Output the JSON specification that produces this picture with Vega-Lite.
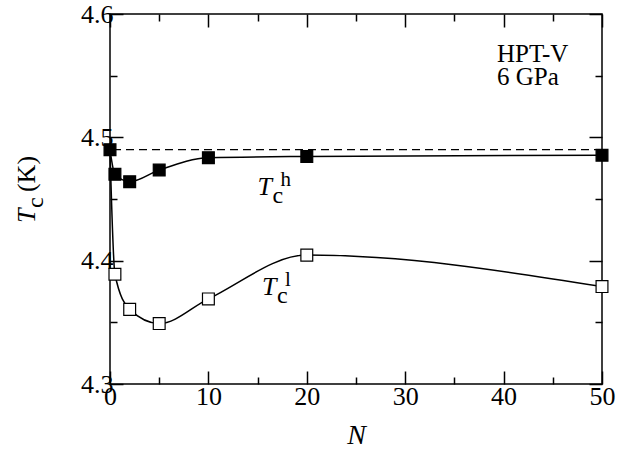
{
  "$schema": "https://vega.github.io/schema/vega-lite/v6.json",
  "width": 492,
  "height": 370,
  "autosize": {"type": "none"},
  "padding": {"left": 110, "top": 14, "right": 37, "bottom": 77},
  "background": "white",
  "config": {
    "view": {"stroke": "black", "strokeWidth": 1.5},
    "font": "Liberation Serif",
    "axis": {
      "domain": false,
      "grid": false,
      "labelFont": "Liberation Serif",
      "labelFontSize": 26,
      "labelColor": "black",
      "tickColor": "black",
      "tickWidth": 1.5,
      "titleFont": "Liberation Serif",
      "titleColor": "black",
      "labelOverlap": false,
      "labelFlush": false,
      "labelBound": false
    }
  },
  "datasets": {
    "tc": [
      {"N": 0, "Tc": 4.49, "series": "h", "marker": true},
      {"N": 0.5, "Tc": 4.47, "series": "h", "marker": true},
      {"N": 2, "Tc": 4.464, "series": "h", "marker": true},
      {"N": 5, "Tc": 4.4735, "series": "h", "marker": true},
      {"N": 10, "Tc": 4.4835, "series": "h", "marker": true},
      {"N": 20, "Tc": 4.4845, "series": "h", "marker": true},
      {"N": 50, "Tc": 4.4855, "series": "h", "marker": true},
      {"N": 0, "Tc": 4.49, "series": "l", "marker": false},
      {"N": 0.5, "Tc": 4.389, "series": "l", "marker": true},
      {"N": 2, "Tc": 4.3605, "series": "l", "marker": true},
      {"N": 5, "Tc": 4.349, "series": "l", "marker": true},
      {"N": 10, "Tc": 4.369, "series": "l", "marker": true},
      {"N": 20, "Tc": 4.4045, "series": "l", "marker": true},
      {"N": 50, "Tc": 4.379, "series": "l", "marker": true}
    ],
    "ref": [{"Tc": 4.49}],
    "labels": [
      {"N": 15, "Tc": 4.453, "sup": "h"},
      {"N": 15.45, "Tc": 4.372, "sup": "l"}
    ],
    "sample": [
      {"N": 39.33, "Tc": 4.561, "line": "HPT-V"},
      {"N": 39.33, "Tc": 4.5424, "line": "6 GPa"}
    ],
    "ytitle": [{"N": -7.6, "Tc": 4.4305}]
  },
  "layer": [
    {
      "data": {"name": "ref"},
      "mark": {"type": "rule", "color": "black", "strokeWidth": 1.3, "strokeDash": [8, 5]},
      "encoding": {
        "y": {"field": "Tc", "type": "quantitative", "scale": {"domain": [4.3, 4.6], "nice": false, "zero": false}, "axis": null}
      }
    },
    {
      "data": {"name": "tc"},
      "mark": {"type": "line", "interpolate": "monotone", "color": "black", "strokeWidth": 1.5},
      "encoding": {
        "x": {
          "field": "N", "type": "quantitative",
          "scale": {"domain": [0, 50], "nice": false, "zero": false},
          "axis": {
            "orient": "bottom",
            "values": [0, 5, 10, 15, 20, 25, 30, 35, 40, 45, 50],
            "tickSize": {"condition": {"test": "datum.value % 10 === 0", "value": -13}, "value": -7},
            "labelExpr": "datum.value % 10 === 0 ? datum.label : ''",
            "labelFont": "Liberation Serif",
            "labelFontSize": 26,
            "labelPadding": 12,
            "title": "N",
            "titleFont": "Liberation Serif",
            "titleFontStyle": "italic",
            "titleFontWeight": "normal",
            "titleFontSize": 28,
            "titlePadding": 6
          }
        },
        "y": {
          "field": "Tc", "type": "quantitative",
          "scale": {"domain": [4.3, 4.6], "nice": false, "zero": false},
          "axis": {
            "orient": "left",
            "values": [4.3, 4.35, 4.4, 4.45, 4.5, 4.55, 4.6],
            "tickSize": {"condition": {"test": "abs(datum.value * 10 - round(datum.value * 10)) < 0.001", "value": -13}, "value": -7},
            "labelExpr": "abs(datum.value * 10 - round(datum.value * 10)) < 0.001 ? format(datum.value, '.1f') : ''",
            "labelFont": "Liberation Serif",
            "labelFontSize": 26,
            "labelPadding": 10,
            "title": null
          }
        },
        "detail": {"field": "series"}
      }
    },
    {
      "data": {"name": "tc"},
      "transform": [{"filter": "datum.marker"}],
      "mark": {"type": "point", "shape": "square", "size": 140, "filled": true, "stroke": "black", "strokeWidth": 1.2, "opacity": 1},
      "encoding": {
        "x": {
          "field": "N", "type": "quantitative",
          "axis": {
            "orient": "top",
            "values": [0, 5, 10, 15, 20, 25, 30, 35, 40, 45, 50],
            "tickSize": {"condition": {"test": "datum.value % 10 === 0", "value": -13}, "value": -7},
            "labels": false,
            "title": null
          }
        },
        "y": {
          "field": "Tc", "type": "quantitative",
          "axis": {
            "orient": "right",
            "values": [4.3, 4.35, 4.4, 4.45, 4.5, 4.55, 4.6],
            "tickSize": {"condition": {"test": "abs(datum.value * 10 - round(datum.value * 10)) < 0.001", "value": -13}, "value": -7},
            "labels": false,
            "title": null
          }
        },
        "fill": {"field": "series", "type": "nominal", "scale": {"domain": ["h", "l"], "range": ["black", "white"]}, "legend": null}
      }
    },
    {
      "data": {"name": "labels"},
      "mark": {"type": "text", "text": "T", "font": "Liberation Serif", "fill": "black", "fontStyle": "italic", "fontSize": 26, "align": "left", "baseline": "alphabetic"},
      "encoding": {
        "x": {"field": "N", "type": "quantitative", "axis": null},
        "y": {"field": "Tc", "type": "quantitative", "axis": null}
      }
    },
    {
      "data": {"name": "labels"},
      "mark": {"type": "text", "text": "c", "font": "Liberation Serif", "fill": "black", "fontSize": 24, "align": "left", "baseline": "alphabetic", "dx": 15, "dy": 8},
      "encoding": {
        "x": {"field": "N", "type": "quantitative", "axis": null},
        "y": {"field": "Tc", "type": "quantitative", "axis": null}
      }
    },
    {
      "data": {"name": "labels"},
      "mark": {"type": "text", "font": "Liberation Serif", "fill": "black", "fontSize": 21, "align": "left", "baseline": "alphabetic", "dx": 23, "dy": -9},
      "encoding": {
        "x": {"field": "N", "type": "quantitative", "axis": null},
        "y": {"field": "Tc", "type": "quantitative", "axis": null},
        "text": {"field": "sup"}
      }
    },
    {
      "data": {"name": "sample"},
      "mark": {"type": "text", "font": "Liberation Serif", "fill": "black", "fontSize": 25, "align": "left", "baseline": "alphabetic"},
      "encoding": {
        "x": {"field": "N", "type": "quantitative", "axis": null},
        "y": {"field": "Tc", "type": "quantitative", "axis": null},
        "text": {"field": "line"}
      }
    },
    {
      "data": {"name": "ytitle"},
      "mark": {"type": "text", "text": "T", "font": "Liberation Serif", "fill": "black", "fontStyle": "italic", "fontSize": 26, "align": "left", "baseline": "alphabetic", "angle": 270},
      "encoding": {
        "x": {"field": "N", "type": "quantitative", "axis": null},
        "y": {"field": "Tc", "type": "quantitative", "axis": null}
      }
    },
    {
      "data": {"name": "ytitle"},
      "mark": {"type": "text", "text": "c", "font": "Liberation Serif", "fill": "black", "fontSize": 24, "align": "left", "baseline": "alphabetic", "angle": 270, "dx": 15, "dy": 8},
      "encoding": {
        "x": {"field": "N", "type": "quantitative", "axis": null},
        "y": {"field": "Tc", "type": "quantitative", "axis": null}
      }
    },
    {
      "data": {"name": "ytitle"},
      "mark": {"type": "text", "text": "(K)", "font": "Liberation Serif", "fill": "black", "fontSize": 26, "align": "left", "baseline": "alphabetic", "angle": 270, "dx": 31},
      "encoding": {
        "x": {"field": "N", "type": "quantitative", "axis": null},
        "y": {"field": "Tc", "type": "quantitative", "axis": null}
      }
    }
  ],
  "resolve": {"axis": {"x": "independent", "y": "independent"}}
}
